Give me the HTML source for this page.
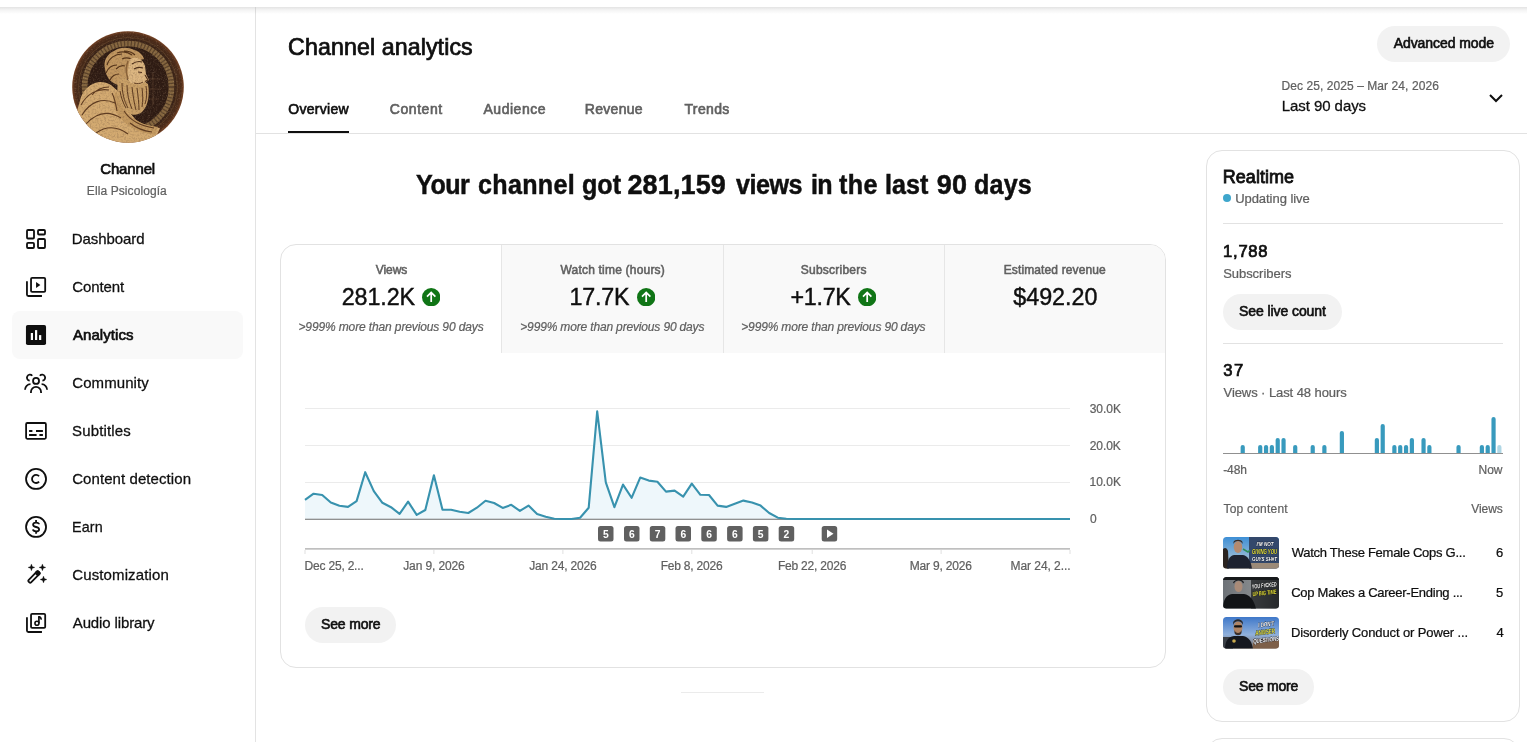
<!DOCTYPE html>
<html lang="en">
<head>
<meta charset="utf-8">
<title>Channel analytics</title>
<style>
*{box-sizing:border-box;margin:0;padding:0}
html,body{width:1527px;height:742px;overflow:hidden;background:#fff}
body{font-family:"Liberation Sans",sans-serif;color:#0f0f0f;position:relative}
.abs{position:absolute}
.x{position:absolute;white-space:nowrap;line-height:1;-webkit-text-stroke:0.018em currentColor}
.m{-webkit-text-stroke:0.045em currentColor}
.lm{-webkit-text-stroke:0.03em currentColor}
.tt{-webkit-text-stroke:0.032em currentColor}
.b{font-weight:bold}
.topshadow{position:absolute;left:0;top:7px;width:1527px;height:7px;background:linear-gradient(#e3e3e3,#f3f3f3 40%,#fff)}
.sideborder{position:absolute;left:255px;top:7px;width:1px;height:735px;background:linear-gradient(#d2d2d2,#e3e3e3 8px)}
.nav{position:absolute;left:12px;width:231px;height:48px}
.nav svg{position:absolute;left:12px;top:12px;width:24px;height:24px}
.nav.sel{background:#f9f9f9;border-radius:8px}
.pill{position:absolute;height:36px;border-radius:18px;background:#f2f2f2}
.hr{position:absolute;height:1px;background:#e2e2e2}
.card{position:absolute;border:1px solid #e2e2e2;border-radius:16px;background:#fff}
.mt{position:absolute;top:245px;height:107.600px;background:#f9f9f9;border-left:1px solid #e6e6e6}
</style>
</head>
<body>
<div class="topshadow"></div>
<div class="sideborder"></div>
<svg class="abs" style="left:72px;top:31px" width="112" height="112" viewBox="0 0 112 112">
  <defs><clipPath id="av"><circle cx="56" cy="56" r="55.800"/></clipPath>
  <radialGradient id="avg" cx="50%" cy="50%" r="50%"><stop offset="0" stop-color="#2a1913"/><stop offset=".72" stop-color="#2e1b13"/><stop offset=".86" stop-color="#3c2417"/><stop offset=".95" stop-color="#4e2c19"/><stop offset="1" stop-color="#7a4425"/></radialGradient>
  <filter id="gr" x="0" y="0" width="100%" height="100%"><feTurbulence type="fractalNoise" baseFrequency="0.550" numOctaves="2" seed="7"/><feColorMatrix type="matrix" values="0 0 0 0 0.160  0 0 0 0 0.090  0 0 0 0 0.050  0 0 0 -2.600 1.450"/></filter>
  <filter id="gl" x="0" y="0" width="100%" height="100%"><feTurbulence type="fractalNoise" baseFrequency="0.700" numOctaves="2" seed="3"/><feColorMatrix type="matrix" values="0 0 0 0 0.780  0 0 0 0 0.620  0 0 0 0 0.400  0 0 0 -3 1.300"/></filter>
  </defs>
  <g clip-path="url(#av)">
    <rect width="112" height="112" fill="url(#avg)"/>
    <circle cx="56" cy="56" r="43.500" fill="none" stroke="#86673f" stroke-width="5.500"/>
    <circle cx="56" cy="56" r="43.500" fill="none" stroke="#2e1b13" stroke-width="5.500" stroke-dasharray="1.200 2.200" opacity=".5"/>
    <circle cx="56" cy="56" r="49.500" fill="none" stroke="#6a4a2c" stroke-width="1" opacity=".6"/>
    <path d="M62 48h26M62 58h27M62 68h25M71 42v34M81 42v32" stroke="#6a4a33" stroke-width=".600" opacity=".8"/>
    <rect width="112" height="112" filter="url(#gl)" opacity=".220"/>
    <!-- robe -->
    <path d="M5 80 9 66c3-7 8-12 14-14 5-2 11-1 16 2l8 7 6 15 11 13 10 6 14 2-4 9-20 7H40L18 100z" fill="#d3aa71"/>
    <path d="M44 60c4 8 6 16 12 23 6 6 14 10 24 12l6 1-3 8-10-2c-12-3-22-10-28-20-4-7-5-15-1-22z" fill="#c39960"/>
    <path d="M9 74c6-11 16-17 28-15M10 84c8-13 20-18 33-12M14 93c10-11 22-14 35-6M24 102c10-7 21-7 32 1M40 62c3 6 4 12 5 18M52 80c6 9 16 15 30 17M58 92c6 5 14 8 22 9M20 64c4-5 10-8 17-8" fill="none" stroke="#5d3a1f" stroke-width="1.100"/>
    <!-- hair -->
    <path d="M33 38c-2-8 2-15 9-18 6-4 14-4 20-1 5 1 9 5 10 9l-8 2-6 8-4 12-8 4c-7-2-12-8-13-16z" fill="#c19760"/>
    <path d="M35 34c2-7 8-11 15-11M34 42c2-5 6-8 11-8M38 49c2-4 5-6 9-6M45 22c5-2 11-1 15 2M50 28c4-2 8-1 11 1M44 38c3-3 6-4 9-3M52 20c4 0 8 1 11 4" fill="none" stroke="#553419" stroke-width="1.200"/>
    <!-- face -->
    <path d="M58 28c6-3 13 0 15 7l1 8 3 6-3 2v6l-6 2-10-3-3-12z" fill="#dcb681"/>
    <path d="M62 38c3-2 6-2 9-1M66 41l4 .5M73 44l3 5-3 1.500M60 33c3-2 7-3 10-2" fill="none" stroke="#4a2c17" stroke-width="1.100"/>
    <path d="M56 30c-2 5-2 12 0 18" fill="none" stroke="#8a6238" stroke-width="1.500"/>
    <!-- beard -->
    <path d="M47 47c-3 10-2 22 4 30 5 7 13 9 19 4 6-6 8-17 6-28l-3-2-5 3-9-2-6-6z" fill="#c9a067"/>
    <path d="M50 52c0 9 2 18 6 25M55 54c0 9 2 17 5 24M60 56c1 8 2 16 4 23M65 57c1 8 2 15 2 22M70 57c1 7 1 13 0 19M74 55c1 6 1 12-1 18M48 60c1 6 3 12 6 17M62 52c3 1 6 1 9-1" fill="none" stroke="#5d3a1f" stroke-width="1"/>
    <rect width="112" height="112" filter="url(#gr)" opacity=".300"/>
  </g>
</svg>

<div class="nav" style="top:215px"><svg viewBox="0 0 24 24"><g fill="none" stroke="#0f0f0f" stroke-width="1.800" stroke-linejoin="round"><rect x="3" y="3" width="7" height="8.500" rx="1"/><rect x="14" y="3" width="7" height="4.500" rx="1"/><rect x="3" y="15.900" width="7" height="5.100" rx="1"/><rect x="14" y="12" width="7" height="9" rx="1"/></g></svg></div>
<div class="nav" style="top:263px"><svg viewBox="0 0 24 24"><g fill="none" stroke="#0f0f0f" stroke-width="1.800"><rect x="7.030" y="2.940" width="14.160" height="13.940" rx="1.150"/><path d="M2.950 6.200v13.300a1.500 1.500 0 0 0 1.500 1.500h13.500"/></g><path d="M12.050 7.050v5.900l4.300-2.950z" fill="#0f0f0f"/></svg></div>
<div class="nav sel" style="top:311px"><svg viewBox="0 0 24 24"><rect x="1.950" y="1.950" width="20.100" height="20.100" rx="1.800" fill="#0f0f0f"/><rect x="6.800" y="10" width="2.200" height="7" fill="#fff"/><rect x="11" y="7.100" width="2.200" height="9.900" fill="#fff"/><rect x="15.050" y="12.100" width="2.200" height="4.900" fill="#fff"/></svg></div>
<div class="nav" style="top:359px"><svg viewBox="0 0 24 24"><g fill="none" stroke="#0f0f0f" stroke-width="1.800"><circle cx="12.050" cy="9.900" r="3"/><path d="M6.950 21.900v-1a5.050 5.050 0 0 1 10.100 0v1"/><path d="M8.240 4.770A3 3 0 1 0 5.680 9.690"/><path d="M15.860 4.770A3 3 0 1 1 18.420 9.690"/><path d="M1 18.700A5.600 5.600 0 0 1 6.500 13.200"/><path d="M23.100 18.700A5.600 5.600 0 0 0 17.600 13.200"/></g></svg></div>
<div class="nav" style="top:407px"><svg viewBox="0 0 24 24"><g fill="none" stroke="#0f0f0f" stroke-width="1.800"><rect x="2.100" y="4" width="19.800" height="15.800" rx="1.200"/><path d="M5.100 11.900h3.300M12 11.900h6.900M5.100 16.100h7.500M15.400 16.100h3.500" stroke-width="2"/></g></svg></div>
<div class="nav" style="top:455px"><svg viewBox="0 0 24 24"><g fill="none" stroke="#0f0f0f" stroke-width="1.800"><circle cx="12.050" cy="11.950" r="10"/><path d="M15.090 9.250A4.050 4.050 0 1 0 15.090 14.670"/></g></svg></div>
<div class="nav" style="top:503px"><svg viewBox="0 0 24 24"><g fill="none" stroke="#0f0f0f" stroke-width="1.800"><circle cx="12.050" cy="11.950" r="10"/><path d="M15 9.300C14.900 8 13.800 7.600 12.100 7.600 10.300 7.600 9.100 8.400 9.100 9.700c0 1.400 1.200 1.900 3 2.300 1.900.400 3 1 3 2.400 0 1.300-1.200 1.900-3 1.900-1.900 0-3-.600-3.100-1.900M12.050 5.100v2.500M12.050 16.300v2.400"/></g></svg></div>
<div class="nav" style="top:551px"><svg viewBox="0 0 24 24"><g transform="translate(9.900 14.100) rotate(-45.500)"><rect x="-7" y="-1.750" width="14.100" height="3.500" rx="1.200" fill="none" stroke="#0f0f0f" stroke-width="1.800"/><rect x="4" y="-1.750" width="3.100" height="3.500" rx=".800" fill="#0f0f0f" stroke="#0f0f0f" stroke-width="1.800"/></g><path d="M7.43 0.96l0.95 2.5 2.5 0.95-2.5 0.95-0.95 2.5-0.95-2.5-2.5-0.95 2.5-0.95zM18.42 0.96l0.95 2.5 2.5 0.95-2.5 0.95-0.95 2.5-0.95-2.5-2.5-0.95 2.5-0.95zM19.5 13.03l0.95 2.5 2.5 0.95-2.5 0.95-0.95 2.5-0.95-2.5-2.5-0.95 2.5-0.95z" fill="#0f0f0f" stroke="#0f0f0f" stroke-width=".300" stroke-linejoin="round"/></svg></div>
<div class="nav" style="top:599px"><svg viewBox="0 0 24 24"><g fill="none" stroke="#0f0f0f" stroke-width="1.800"><rect x="7.030" y="2.940" width="14.160" height="13.940" rx="1.150"/><path d="M2.950 6.200v13.300a1.500 1.500 0 0 0 1.500 1.500h13.500"/></g><circle cx="12.950" cy="12.200" r="2" fill="none" stroke="#0f0f0f" stroke-width="1.600"/><path d="M14.900 12.200V5.900" fill="none" stroke="#0f0f0f" stroke-width="1.700"/><path d="M14.100 5.050h1.600c1.400.700 2.200 1.700 2.300 3.400l-1.200.500c-.300-1-.900-1.700-2.700-2.100z" fill="#0f0f0f"/></svg></div>

<div class="abs" style="left:288px;top:131px;width:61px;height:2px;background:#0f0f0f"></div>
<div class="hr" style="left:256px;top:133px;width:1271px"></div>
<div class="pill" style="left:1377px;top:26px;width:133px"></div>
<svg class="abs" style="left:1484.200px;top:85.700px" width="24" height="24" viewBox="0 0 24 24"><path d="M6 9l6 6 6-6" fill="none" stroke="#0f0f0f" stroke-width="2"/></svg>

<div class="card" style="left:280px;top:244px;width:886px;height:424px"></div>
<div class="mt" style="left:501px;width:222px"></div>
<div class="mt" style="left:723px;width:221px"></div>
<div class="mt" style="left:944px;width:221px;border-top-right-radius:15px"></div>
<svg class="abs" style="left:421.8px;top:287.800px" width="18.400" height="18.400" viewBox="0 0 18 18"><circle cx="9" cy="9" r="9" fill="#107516"/><path d="M9 13.600V5M4.900 8.500 9 4.400l4.100 4.100" fill="none" stroke="#fff" stroke-width="1.700"/></svg>
<svg class="abs" style="left:636.8px;top:287.800px" width="18.400" height="18.400" viewBox="0 0 18 18"><circle cx="9" cy="9" r="9" fill="#107516"/><path d="M9 13.600V5M4.900 8.500 9 4.400l4.100 4.100" fill="none" stroke="#fff" stroke-width="1.700"/></svg>
<svg class="abs" style="left:857.9px;top:287.800px" width="18.400" height="18.400" viewBox="0 0 18 18"><circle cx="9" cy="9" r="9" fill="#107516"/><path d="M9 13.600V5M4.900 8.500 9 4.400l4.100 4.100" fill="none" stroke="#fff" stroke-width="1.700"/></svg>
<svg id="chart" class="abs" style="left:280px;top:380px" width="886" height="220" viewBox="280 380 886 220" font-family="'Liberation Sans',sans-serif" font-size="12" fill="#606060">
<rect x="305" y="408" width="765" height="1" fill="#ebebeb"/>
<rect x="305" y="445" width="765" height="1" fill="#ebebeb"/>
<rect x="305" y="482" width="765" height="1" fill="#ebebeb"/>
<polygon points="305,519.5 305.0,499.9 313.6,493.7 322.2,495 330.8,502.5 339.4,505.8 348.0,506.9 356.6,501.1 365.2,472.2 373.8,491.1 382.4,502.8 391.0,507.2 399.6,513.9 408.1,501.6 416.7,514.9 425.3,510 433.9,475.3 442.5,509.8 451.1,509.8 459.7,511.8 468.3,513 476.9,507.7 485.5,500.7 494.1,503 502.7,507.9 511.3,504.8 519.9,510.9 528.5,505.6 537.1,513.9 545.7,516.7 554.3,518.7 562.9,519 571.5,519 580.1,517.7 588.7,507.7 597.2,411.4 605.8,482.3 614.4,507.2 623.0,484.6 631.6,497.8 640.2,477.6 648.8,480.6 657.4,481.8 666.0,491.6 674.6,490.6 683.2,496.7 691.8,483.7 700.4,494.8 709.0,495 717.6,505.6 726.2,506.9 734.8,503.7 743.4,500.6 752.0,502.5 760.6,505.6 769.2,513 777.8,517.7 786.3,518.8 794.9,519 803.5,519 812.1,519 820.7,519 829.3,519 837.9,519 846.5,519 855.1,519 863.7,519 872.3,519 880.9,519 889.5,519 898.1,519 906.7,519 915.3,519 923.9,519 932.5,519 941.1,519 949.7,519 958.3,519 966.9,519 975.4,519 984.0,519 992.6,519 1001.2,519 1009.8,519 1018.4,519 1027.0,519 1035.6,519 1044.2,519 1052.8,519 1061.4,519 1070.0,519 1070,519.5" fill="#eef7fb"/>
<rect x="305" y="518.700" width="765" height="1.200" fill="#858585"/>
<polyline points="305.0,499.9 313.6,493.7 322.2,495 330.8,502.5 339.4,505.8 348.0,506.9 356.6,501.1 365.2,472.2 373.8,491.1 382.4,502.8 391.0,507.2 399.6,513.9 408.1,501.6 416.7,514.9 425.3,510 433.9,475.3 442.5,509.8 451.1,509.8 459.7,511.8 468.3,513 476.9,507.7 485.5,500.7 494.1,503 502.7,507.9 511.3,504.8 519.9,510.9 528.5,505.6 537.1,513.9 545.7,516.7 554.3,518.7 562.9,519 571.5,519 580.1,517.7 588.7,507.7 597.2,411.4 605.8,482.3 614.4,507.2 623.0,484.6 631.6,497.8 640.2,477.6 648.8,480.6 657.4,481.8 666.0,491.6 674.6,490.6 683.2,496.7 691.8,483.7 700.4,494.8 709.0,495 717.6,505.6 726.2,506.9 734.8,503.7 743.4,500.6 752.0,502.5 760.6,505.6 769.2,513 777.8,517.7 786.3,518.8 794.9,519 803.5,519 812.1,519 820.7,519 829.3,519 837.9,519 846.5,519 855.1,519 863.7,519 872.3,519 880.9,519 889.5,519 898.1,519 906.7,519 915.3,519 923.9,519 932.5,519 941.1,519 949.7,519 958.3,519 966.9,519 975.4,519 984.0,519 992.6,519 1001.2,519 1009.8,519 1018.4,519 1027.0,519 1035.6,519 1044.2,519 1052.8,519 1061.4,519 1070.0,519" fill="none" stroke="#3892ae" stroke-width="2.100" stroke-linejoin="round"/>
<rect x="598" y="526" width="15.500" height="15.500" rx="2.500" fill="#606060"/><text x="605.75" y="537.600" text-anchor="middle" font-size="10.300" font-weight="bold" fill="#fff">5</text>
<rect x="624" y="526" width="15.500" height="15.500" rx="2.500" fill="#606060"/><text x="631.75" y="537.600" text-anchor="middle" font-size="10.300" font-weight="bold" fill="#fff">6</text>
<rect x="649.8" y="526" width="15.500" height="15.500" rx="2.500" fill="#606060"/><text x="657.55" y="537.600" text-anchor="middle" font-size="10.300" font-weight="bold" fill="#fff">7</text>
<rect x="675.5" y="526" width="15.500" height="15.500" rx="2.500" fill="#606060"/><text x="683.25" y="537.600" text-anchor="middle" font-size="10.300" font-weight="bold" fill="#fff">6</text>
<rect x="701.3" y="526" width="15.500" height="15.500" rx="2.500" fill="#606060"/><text x="709.05" y="537.600" text-anchor="middle" font-size="10.300" font-weight="bold" fill="#fff">6</text>
<rect x="727.1" y="526" width="15.500" height="15.500" rx="2.500" fill="#606060"/><text x="734.85" y="537.600" text-anchor="middle" font-size="10.300" font-weight="bold" fill="#fff">6</text>
<rect x="752.9" y="526" width="15.500" height="15.500" rx="2.500" fill="#606060"/><text x="760.65" y="537.600" text-anchor="middle" font-size="10.300" font-weight="bold" fill="#fff">5</text>
<rect x="778.7" y="526" width="15.500" height="15.500" rx="2.500" fill="#606060"/><text x="786.45" y="537.600" text-anchor="middle" font-size="10.300" font-weight="bold" fill="#fff">2</text>
<rect x="821.700" y="526" width="15.500" height="15.500" rx="2.500" fill="#606060"/><path d="M827 529.500v8.500l6.500-4.250z" fill="#fff"/>
<rect x="305" y="548" width="765" height="1.700" fill="#bfbfbf"/>
<rect x="304.5" y="550" width="1" height="4" fill="#e0e0e0"/>
<rect x="433.4" y="550" width="1" height="4" fill="#e0e0e0"/>
<rect x="562.4" y="550" width="1" height="4" fill="#e0e0e0"/>
<rect x="691.3" y="550" width="1" height="4" fill="#e0e0e0"/>
<rect x="811.7" y="550" width="1" height="4" fill="#e0e0e0"/>
<rect x="940.6" y="550" width="1" height="4" fill="#e0e0e0"/>
<rect x="1069.5" y="550" width="1" height="4" fill="#e0e0e0"/>
</svg>
<div class="pill" style="left:305px;top:606.600px;width:91px"></div>
<div class="abs" style="left:681px;top:692px;width:83px;height:1px;background:#ebebeb"></div>

<div class="card" style="left:1206px;top:150px;width:314px;height:572px"></div>
<div class="card" style="left:1206px;top:738px;width:314px;height:100px"></div>
<div class="abs" style="left:1223px;top:194.400px;width:8px;height:8px;border-radius:4px;background:#3ea6cc"></div>
<div class="hr" style="left:1223px;top:223px;width:280px"></div>
<div class="pill" style="left:1223px;top:294px;width:118.500px"></div>
<div class="hr" style="left:1223px;top:343px;width:280px"></div>
<svg id="bars" class="abs" style="left:1223px;top:410px" width="280" height="46" viewBox="0 0 280 46">
<rect x="17.62" y="35" width="4.200" height="10" rx="2.100" fill="#389abd"/>
<rect x="35.12" y="35" width="4.200" height="10" rx="2.100" fill="#389abd"/>
<rect x="40.95" y="35" width="4.200" height="10" rx="2.100" fill="#389abd"/>
<rect x="46.78" y="35" width="4.200" height="10" rx="2.100" fill="#389abd"/>
<rect x="52.62" y="28" width="4.200" height="17" rx="2.100" fill="#389abd"/>
<rect x="58.45" y="28" width="4.200" height="17" rx="2.100" fill="#389abd"/>
<rect x="70.12" y="35" width="4.200" height="10" rx="2.100" fill="#389abd"/>
<rect x="87.62" y="35" width="4.200" height="10" rx="2.100" fill="#389abd"/>
<rect x="99.28" y="35" width="4.200" height="10" rx="2.100" fill="#389abd"/>
<rect x="116.78" y="21" width="4.200" height="24" rx="2.100" fill="#389abd"/>
<rect x="151.78" y="28" width="4.200" height="17" rx="2.100" fill="#389abd"/>
<rect x="157.62" y="14" width="4.200" height="31" rx="2.100" fill="#389abd"/>
<rect x="169.28" y="35" width="4.200" height="10" rx="2.100" fill="#389abd"/>
<rect x="175.12" y="35" width="4.200" height="10" rx="2.100" fill="#389abd"/>
<rect x="180.95" y="35" width="4.200" height="10" rx="2.100" fill="#389abd"/>
<rect x="186.78" y="28" width="4.200" height="17" rx="2.100" fill="#389abd"/>
<rect x="198.45" y="28" width="4.200" height="17" rx="2.100" fill="#389abd"/>
<rect x="204.28" y="35" width="4.200" height="10" rx="2.100" fill="#389abd"/>
<rect x="233.45" y="35" width="4.200" height="10" rx="2.100" fill="#389abd"/>
<rect x="256.78" y="35" width="4.200" height="10" rx="2.100" fill="#389abd"/>
<rect x="262.62" y="35" width="4.200" height="10" rx="2.100" fill="#389abd"/>
<rect x="268.45" y="7" width="4.200" height="38" rx="2.100" fill="#389abd"/>
<rect x="274.28" y="35" width="4.200" height="10" rx="2.100" fill="#b0d7e5"/>
<rect x="0" y="43" width="280" height="3" fill="#fff"/><rect x="0" y="43" width="280" height="1" fill="#909090"/>
</svg>
<svg class="abs" style="left:1223px;top:537px" width="56" height="32" viewBox="0 0 56 32"><defs><clipPath id="tc"><rect width="56" height="31.600" rx="3.500"/></clipPath><linearGradient id="sk1" x1="0" y1="0" x2="0" y2="1"><stop offset="0" stop-color="#3d8fd6"/><stop offset=".6" stop-color="#8fb6d6"/><stop offset="1" stop-color="#a89780"/></linearGradient></defs>
<g clip-path="url(#tc)"><rect width="56" height="32" fill="url(#sk1)"/><rect x="26" width="30" height="32" fill="#33486b"/><rect x="26" y="26" width="30" height="6" fill="#9b8a78"/>
<path d="M0 12c2-2 4-1 5 2l1 18H0z" fill="#2a2320"/><path d="M4 32c0-8 2-13 7-14h9c5 1 8 6 9 14z" fill="#1d2230"/><ellipse cx="15" cy="10" rx="4.300" ry="6" fill="#b48a70"/><path d="M10.500 7c1-4 8-4 9 0v-2c-1-3-8-3-9 0z" fill="#3a2c25"/>
<path d="M20 12l5 3 2-2" stroke="#2f8f5a" stroke-width="1.500" fill="none"/>
<g font-family="'Liberation Sans',sans-serif" font-weight="bold" font-style="italic" font-size="6.200" text-anchor="middle"><text x="42" y="9.300" fill="#fff" stroke="#101828" stroke-width=".700" paint-order="stroke" textLength="17" lengthAdjust="spacingAndGlyphs">I'M NOT</text><text x="41.500" y="16.800" fill="#e6e03a" stroke="#101828" stroke-width=".700" paint-order="stroke" font-size="6.600" textLength="25" lengthAdjust="spacingAndGlyphs">GIVING YOU</text><text x="41.500" y="24.200" fill="#fff" stroke="#101828" stroke-width=".700" paint-order="stroke" textLength="25" lengthAdjust="spacingAndGlyphs">GUYS SH#T</text></g></g></svg>
<svg class="abs" style="left:1223px;top:577px" width="56" height="32" viewBox="0 0 56 32"><defs><linearGradient id="sk2" x1="0" y1="0" x2="1" y2="0"><stop offset="0" stop-color="#6d7277"/><stop offset=".5" stop-color="#84888b"/><stop offset="1" stop-color="#2d3033"/></linearGradient></defs>
<g clip-path="url(#tc)"><rect width="56" height="32" fill="url(#sk2)"/><rect x="28" y="0" width="28" height="32" fill="#25282b" opacity=".8"/><rect x="0" y="0" width="56" height="3" fill="#17191b"/>
<path d="M0 32c0-9 3-14 9-15h12c6 1 10 6 12 15z" fill="#121417"/><ellipse cx="15.500" cy="9.500" rx="4" ry="5.500" fill="#a98b78"/><path d="M11 6.500c1-4 8-4 9 0l1-1c-1-4-9-4-11 0z" fill="#1c1c1e"/>
<g font-family="'Liberation Sans',sans-serif" font-weight="bold" font-style="italic" font-size="6.200" text-anchor="middle" transform="rotate(-6 41 12)"><text x="41.500" y="10.500" fill="#fff" stroke="#0c0c0c" stroke-width=".700" paint-order="stroke" textLength="25" lengthAdjust="spacingAndGlyphs">YOU F#CKED</text><text x="41" y="18" fill="#e6e03a" stroke="#0c0c0c" stroke-width=".700" paint-order="stroke" textLength="24" lengthAdjust="spacingAndGlyphs">UP BIG TIME</text></g></g></svg>
<svg class="abs" style="left:1223px;top:617px" width="56" height="32" viewBox="0 0 56 32"><defs><linearGradient id="sk3" x1="0" y1="0" x2="0" y2="1"><stop offset="0" stop-color="#3f78c9"/><stop offset=".55" stop-color="#8fb0dc"/><stop offset="1" stop-color="#7a6a5c"/></linearGradient></defs>
<g clip-path="url(#tc)"><rect width="56" height="32" fill="url(#sk3)"/><rect x="30" y="22" width="26" height="10" fill="#7d5f48"/><rect x="0" y="20" width="10" height="12" fill="#3a3f46"/>
<path d="M2 32c0-8 3-12 9-13h9c6 1 9 6 10 13z" fill="#15181f"/><ellipse cx="15" cy="10.500" rx="4.500" ry="6.200" fill="#b08566"/><path d="M10.500 8c0-5 9-5 9 0l.5-2c-1-5-9-5-10 0z" fill="#2a2a2c"/><rect x="11" y="8.200" width="8" height="2.300" rx="1" fill="#111"/><path d="M11.500 13c1 4 6 4 7 0v3c-1 3-6 3-7 0z" fill="#3b2f2a"/><circle cx="11" cy="24" r="1.800" fill="#c9a94e"/>
<g font-family="'Liberation Sans',sans-serif" font-weight="bold" font-style="italic" font-size="6.200" text-anchor="middle" transform="rotate(-7 42 14)"><text x="44" y="9.500" fill="#fff" stroke="#101828" stroke-width=".700" paint-order="stroke" textLength="16" lengthAdjust="spacingAndGlyphs">I DON'T</text><text x="42" y="17.300" fill="#e6e03a" stroke="#101828" stroke-width=".700" paint-order="stroke" font-size="6.800" textLength="20" lengthAdjust="spacingAndGlyphs">ANWSER</text><text x="42" y="25" fill="#fff" stroke="#101828" stroke-width=".700" paint-order="stroke" textLength="26" lengthAdjust="spacingAndGlyphs">QUESTIONS</text></g></g></svg>
<div class="pill" style="left:1223px;top:669px;width:90.500px"></div>
<div id="sb_ch" class="x m" style="left:100.28px;top:161.30px;font-size:15px;color:#0f0f0f;letter-spacing:-0.167px">Channel</div>
<div id="sb_name" class="x" style="left:86.85px;top:184.84px;font-size:12px;color:#606060;letter-spacing:0.088px">Ella Psicología</div>
<div id="n0" class="x" style="left:71.68px;top:231.30px;font-size:15px;color:#0f0f0f;letter-spacing:-0.067px">Dashboard</div>
<div id="n1" class="x" style="left:72.22px;top:279.30px;font-size:15px;color:#0f0f0f;letter-spacing:-0.098px">Content</div>
<div id="n2" class="x m" style="left:72.89px;top:327.30px;font-size:15px;color:#0f0f0f;letter-spacing:0.086px">Analytics</div>
<div id="n3" class="x" style="left:72.22px;top:375.30px;font-size:15px;color:#0f0f0f;letter-spacing:0.080px">Community</div>
<div id="n4" class="x" style="left:72.03px;top:423.30px;font-size:15px;color:#0f0f0f;letter-spacing:0.144px">Subtitles</div>
<div id="n5" class="x" style="left:72.22px;top:471.30px;font-size:15px;color:#0f0f0f;letter-spacing:0.073px">Content detection</div>
<div id="n6" class="x" style="left:71.61px;top:519.30px;font-size:15px;color:#0f0f0f;letter-spacing:0.183px;transform:scaleX(0.955);transform-origin:0 0">Earn</div>
<div id="n7" class="x" style="left:72.22px;top:567.30px;font-size:15px;color:#0f0f0f;letter-spacing:0.125px">Customization</div>
<div id="n8" class="x" style="left:72.75px;top:615.30px;font-size:15px;color:#0f0f0f;letter-spacing:-0.126px">Audio library</div>
<div id="h_title" class="x tt" style="left:288.07px;top:36.36px;font-size:23.2px;color:#0f0f0f;letter-spacing:0.099px">Channel analytics</div>
<div id="tab0" class="x m" style="left:288.20px;top:102.15px;font-size:14px;color:#0f0f0f;letter-spacing:0.303px">Overview</div>
<div id="tab1" class="x m" style="left:389.81px;top:102.15px;font-size:14px;color:#606060;letter-spacing:0.550px">Content</div>
<div id="tab2" class="x m" style="left:483.52px;top:102.15px;font-size:14px;color:#606060;letter-spacing:0.515px">Audience</div>
<div id="tab3" class="x m" style="left:584.79px;top:102.15px;font-size:14px;color:#606060;letter-spacing:0.301px">Revenue</div>
<div id="tab4" class="x m" style="left:684.46px;top:102.15px;font-size:14px;color:#606060;letter-spacing:0.371px">Trends</div>
<div id="adv" class="x m" style="left:1393.71px;top:36.15px;font-size:14px;color:#0f0f0f;letter-spacing:-0.076px">Advanced mode</div>
<div id="date" class="x" style="left:1281.52px;top:79.84px;font-size:12px;color:#606060;letter-spacing:0.071px">Dec 25, 2025 – Mar 24, 2026</div>
<div id="last" class="x" style="left:1281.68px;top:98.30px;font-size:15px;color:#0f0f0f;letter-spacing:-0.055px">Last 90 days</div>
<div id="hw0" class="x b" style="left:416.27px;top:172.14px;font-size:27px;color:#0f0f0f;letter-spacing:-0.533px;transform:scaleX(0.93);transform-origin:0 0">Your</div>
<div id="hw1" class="x b" style="left:478.16px;top:172.14px;font-size:27px;color:#0f0f0f;letter-spacing:0.321px;transform:scaleX(0.93);transform-origin:0 0">channel</div>
<div id="hw2" class="x b" style="left:581.86px;top:172.14px;font-size:27px;color:#0f0f0f;letter-spacing:0.020px;transform:scaleX(0.93);transform-origin:0 0">got</div>
<div id="hw3" class="x b" style="left:627.48px;top:172.14px;font-size:27px;color:#0f0f0f;letter-spacing:0.125px">281,159</div>
<div id="hw4" class="x b" style="left:735.86px;top:172.14px;font-size:27px;color:#0f0f0f;letter-spacing:-0.501px;transform:scaleX(0.93);transform-origin:0 0">views</div>
<div id="hw5" class="x b" style="left:810.71px;top:172.14px;font-size:27px;color:#0f0f0f;letter-spacing:-0.775px;transform:scaleX(0.93);transform-origin:0 0">in</div>
<div id="hw6" class="x b" style="left:838.76px;top:172.14px;font-size:27px;color:#0f0f0f;letter-spacing:0.386px;transform:scaleX(0.93);transform-origin:0 0">the</div>
<div id="hw7" class="x b" style="left:885.03px;top:172.14px;font-size:27px;color:#0f0f0f;letter-spacing:0.026px;transform:scaleX(0.93);transform-origin:0 0">last</div>
<div id="hw8" class="x b" style="left:936.70px;top:172.14px;font-size:27px;color:#0f0f0f;letter-spacing:0.305px">90</div>
<div id="hw9" class="x b" style="left:973.55px;top:172.14px;font-size:27px;color:#0f0f0f;letter-spacing:0.210px;transform:scaleX(0.93);transform-origin:0 0">days</div>
<div id="ml0" class="x m" style="left:375.73px;top:263.84px;font-size:12px;color:#606060;letter-spacing:-0.036px">Views</div>
<div id="mv0" class="x" style="left:341.63px;top:286.28px;font-size:23.3px;color:#0f0f0f;letter-spacing:-0.060px">281.2K</div>
<div id="ms0" class="x" style="left:298.49px;top:320.84px;font-size:12px;color:#606060;letter-spacing:-0.128px;font-style:italic">&gt;999% more than previous 90 days</div>
<div id="ml1" class="x m" style="left:560.51px;top:263.84px;font-size:12px;color:#606060;letter-spacing:0.199px">Watch time (hours)</div>
<div id="mv1" class="x" style="left:569.54px;top:286.28px;font-size:23.3px;color:#0f0f0f;letter-spacing:-0.222px">17.7K</div>
<div id="ms1" class="x" style="left:520.27px;top:320.84px;font-size:12px;color:#606060;letter-spacing:-0.159px;font-style:italic">&gt;999% more than previous 90 days</div>
<div id="ml2" class="x m" style="left:800.80px;top:263.84px;font-size:12px;color:#606060;letter-spacing:0.228px">Subscribers</div>
<div id="mv2" class="x" style="left:790.46px;top:286.28px;font-size:23.3px;color:#0f0f0f;letter-spacing:-0.272px">+1.7K</div>
<div id="ms2" class="x" style="left:741.27px;top:320.84px;font-size:12px;color:#606060;letter-spacing:-0.158px;font-style:italic">&gt;999% more than previous 90 days</div>
<div id="ml3" class="x m" style="left:1003.66px;top:263.84px;font-size:12px;color:#606060;letter-spacing:0.128px">Estimated revenue</div>
<div id="mv3" class="x" style="left:1013.35px;top:286.28px;font-size:23.3px;color:#0f0f0f;letter-spacing:-0.031px">$492.20</div>
<div id="cy3" class="x" style="left:1089.65px;top:402.84px;font-size:12px;color:#606060;letter-spacing:-0.020px">30.0K</div>
<div id="cy2" class="x" style="left:1089.70px;top:439.84px;font-size:12px;color:#606060;letter-spacing:-0.050px">20.0K</div>
<div id="cy1" class="x" style="left:1089.46px;top:475.84px;font-size:12px;color:#606060;letter-spacing:0.017px">10.0K</div>
<div id="cy0" class="x" style="left:1089.94px;top:512.84px;font-size:12px;color:#606060;letter-spacing:0.000px">0</div>
<div id="cx0" class="x" style="left:304.57px;top:559.84px;font-size:12px;color:#606060;letter-spacing:-0.201px">Dec 25, 2...</div>
<div id="cx1" class="x" style="left:403.22px;top:559.84px;font-size:12px;color:#606060;letter-spacing:-0.119px">Jan 9, 2026</div>
<div id="cx2" class="x" style="left:529.22px;top:559.84px;font-size:12px;color:#606060;letter-spacing:-0.179px">Jan 24, 2026</div>
<div id="cx3" class="x" style="left:660.76px;top:559.84px;font-size:12px;color:#606060;letter-spacing:-0.224px">Feb 8, 2026</div>
<div id="cx4" class="x" style="left:777.92px;top:559.84px;font-size:12px;color:#606060;letter-spacing:-0.210px">Feb 22, 2026</div>
<div id="cx5" class="x" style="left:909.64px;top:559.84px;font-size:12px;color:#606060;letter-spacing:-0.170px">Mar 9, 2026</div>
<div id="cx6" class="x" style="left:1010.56px;top:559.84px;font-size:12px;color:#606060;letter-spacing:-0.063px">Mar 24, 2...</div>
<div id="seemore1" class="x m" style="left:320.99px;top:617.15px;font-size:14px;color:#0f0f0f;letter-spacing:-0.146px">See more</div>
<div id="rt_title" class="x m" style="left:1222.76px;top:167.76px;font-size:18px;color:#0f0f0f;letter-spacing:0.040px">Realtime</div>
<div id="rt_upd" class="x" style="left:1235.15px;top:192.00px;font-size:13px;color:#606060;letter-spacing:-0.044px">Updating live</div>
<div id="rt_subs" class="x m" style="left:1223.10px;top:244.35px;font-size:16.6px;color:#0f0f0f;letter-spacing:0.729px">1,788</div>
<div id="rt_subl" class="x" style="left:1223.13px;top:267.00px;font-size:13px;color:#606060;letter-spacing:-0.033px">Subscribers</div>
<div id="rt_live" class="x m" style="left:1239.07px;top:304.15px;font-size:14px;color:#0f0f0f;letter-spacing:-0.085px">See live count</div>
<div id="rt_v" class="x m" style="left:1223.30px;top:363.35px;font-size:16.6px;color:#0f0f0f;letter-spacing:1.422px">37</div>
<div id="rt_vl" class="x" style="left:1223.57px;top:386.00px;font-size:13px;color:#606060;letter-spacing:-0.083px">Views · Last 48 hours</div>
<div id="rt_48" class="x" style="left:1223.18px;top:463.84px;font-size:12px;color:#606060;letter-spacing:-0.078px">-48h</div>
<div id="rt_now" class="x" style="left:1478.54px;top:463.84px;font-size:12px;color:#606060;letter-spacing:-0.030px">Now</div>
<div id="rt_top" class="x" style="left:1223.52px;top:502.84px;font-size:12px;color:#606060;letter-spacing:0.205px">Top content</div>
<div id="rt_views" class="x" style="left:1471.26px;top:502.84px;font-size:12px;color:#606060;letter-spacing:-0.054px">Views</div>
<div id="rt_t1" class="x" style="left:1291.74px;top:546.00px;font-size:13px;color:#0f0f0f;letter-spacing:-0.272px">Watch These Female Cops G...</div>
<div id="rt_c1" class="x" style="left:1495.95px;top:546.00px;font-size:13px;color:#0f0f0f;letter-spacing:0.000px">6</div>
<div id="rt_t2" class="x" style="left:1291.20px;top:586.00px;font-size:13px;color:#0f0f0f;letter-spacing:-0.265px">Cop Makes a Career-Ending ...</div>
<div id="rt_c2" class="x" style="left:1496.12px;top:586.00px;font-size:13px;color:#0f0f0f;letter-spacing:0.000px">5</div>
<div id="rt_t3" class="x" style="left:1290.92px;top:626.00px;font-size:13px;color:#0f0f0f;letter-spacing:-0.111px">Disorderly Conduct or Power ...</div>
<div id="rt_c3" class="x" style="left:1496.41px;top:626.00px;font-size:13px;color:#0f0f0f;letter-spacing:0.000px">4</div>
<div id="seemore2" class="x m" style="left:1239.07px;top:679.15px;font-size:14px;color:#0f0f0f;letter-spacing:-0.203px">See more</div>
</body>
</html>
